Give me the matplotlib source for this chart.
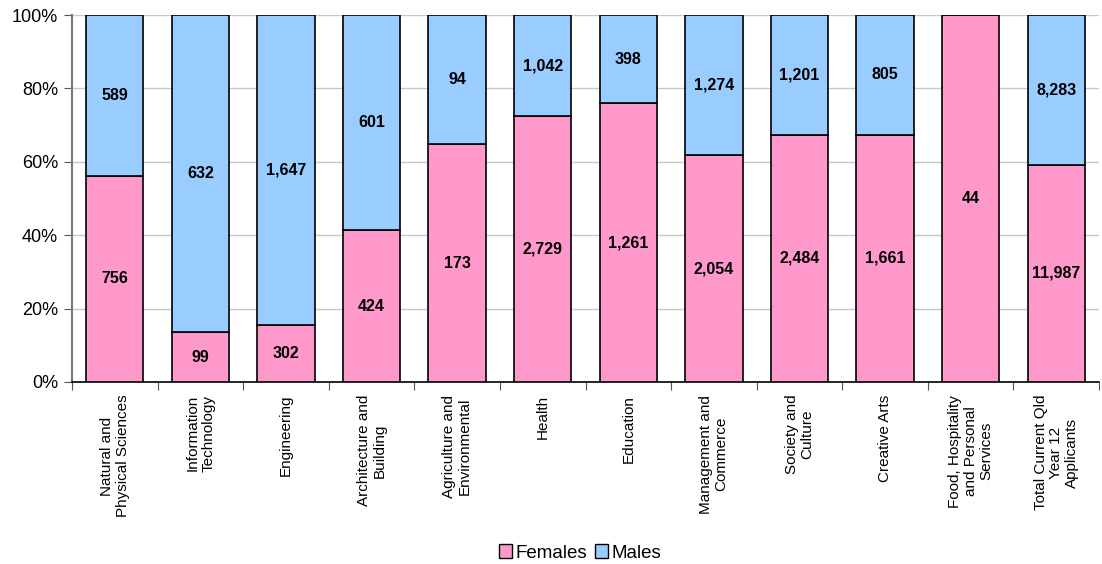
import matplotlib.pyplot as plt
import numpy as np
from matplotlib.patches import Patch

plt.rcParams['font.family'] = ['Liberation Sans', 'DejaVu Sans']

categories = ['Natural and\nPhysical Sciences', 'Information\nTechnology', 'Engineering',
              'Architecture and\nBuilding', 'Agriculture and\nEnvironmental', 'Health',
              'Education', 'Management and\nCommerce', 'Society and\nCulture', 'Creative Arts',
              'Food, Hospitality\nand Personal\nServices', 'Total Current Qld\nYear 12\nApplicants']
females = [756, 99, 302, 424, 173, 2729, 1261, 2054, 2484, 1661, 44, 11987]
males = [589, 632, 1647, 601, 94, 1042, 398, 1274, 1201, 805, 0, 8283]

pink = '#FF99CC'
blue = '#99CCFF'

fem = np.array(females, dtype=float)
mal = np.array(males, dtype=float)
tot = fem + mal
fem_pct = fem / tot * 100
mal_pct = mal / tot * 100

fig = plt.figure(figsize=(11.02, 5.64), dpi=100)
ax = fig.add_axes([72 / 1102, 1 - 382 / 564, 1027 / 1102, 367 / 564])

x = np.arange(len(categories))
w = 0.67
ax.bar(x, fem_pct, w, color=pink, edgecolor='black', linewidth=1.2, zorder=3)
ax.bar(x, mal_pct, w, bottom=fem_pct, color=blue, edgecolor='black', linewidth=1.2, zorder=3)

for i in range(len(categories)):
    if fem[i] > 0:
        ax.text(x[i], fem_pct[i] / 2, f'{females[i]:,}', ha='center', va='center',
                fontsize=11.5, fontweight='bold', zorder=4)
    if mal[i] > 0:
        ax.text(x[i], fem_pct[i] + mal_pct[i] / 2, f'{males[i]:,}', ha='center', va='center',
                fontsize=11.5, fontweight='bold', zorder=4)

ax.set_xlim(-0.5, len(categories) - 0.5)
ax.set_ylim(0, 100)
ax.set_yticks(np.arange(0, 101, 20))
ax.set_yticklabels([f'{v}%' for v in range(0, 101, 20)], fontsize=13)
ax.yaxis.grid(True, color='#C8C8C8', linewidth=1, zorder=0)

# category ticks sit between bars, labels drawn separately
ax.set_xticks(np.arange(-0.5, len(categories), 1))
ax.set_xticklabels([])
ax.tick_params(axis='x', length=6, color='#555555')
ax.tick_params(axis='y', length=6, color='#555555', pad=4)
for i, c in enumerate(categories):
    ax.text(x[i], -3.5, c, rotation=90, ha='center', va='top', multialignment='center',
            fontsize=11, linespacing=1.15, transform=ax.transData)

for s in ['top', 'right']:
    ax.spines[s].set_visible(False)
ax.spines['left'].set_color('#777777')
ax.spines['left'].set_linewidth(1.5)
ax.spines['bottom'].set_color('black')
ax.spines['bottom'].set_linewidth(1.2)

handles = [Patch(facecolor=pink, edgecolor='black', label='Females'),
           Patch(facecolor=blue, edgecolor='black', label='Males')]
fig.legend(handles=handles, loc='center', bbox_to_anchor=(580 / 1102, 1 - 553 / 564), ncol=2,
           frameon=False, fontsize=13.5, handlelength=0.7, handleheight=0.7,
           handletextpad=0.2, columnspacing=0.4)

fig.savefig('out.png', dpi=100)
